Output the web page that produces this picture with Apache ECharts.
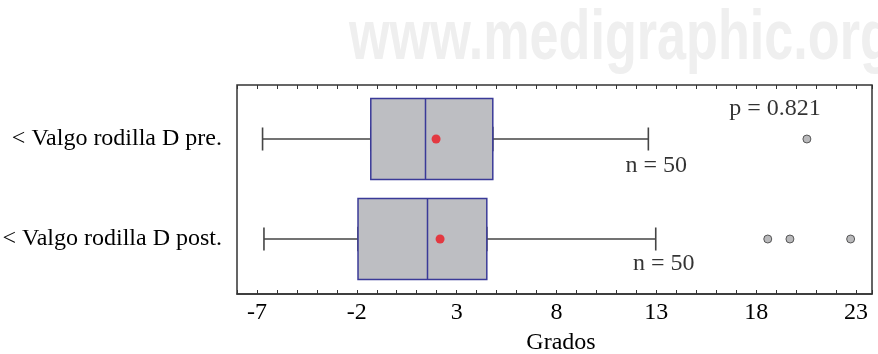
<!DOCTYPE html>
<html><head><meta charset="utf-8">
<script src="https://cdn.jsdelivr.net/npm/echarts@6/dist/echarts.min.js"></script>
<style>html,body{margin:0;padding:0;background:#fff}#c{width:878px;height:354px}</style>
</head><body><div id="c"></div>
<script>
// ---- data ----
const categories = ['< Valgo rodilla D pre.', '< Valgo rodilla D post.'];
// [lower whisker, Q1, median, Q3, upper whisker]
const boxPre  = [-6.72, -1.30, 1.44, 4.81, 12.60];
const boxPost = [-6.65, -1.94, 1.54, 4.51, 12.97];
const meanValues = [1.97, 2.17];
const outliersPre  = [20.54];
const outliersPost = [18.58, 19.69, 22.73];
const sampleSizes = [50, 50];
const pValue = '0.821';
const tickLabels = [-7, -2, 3, 8, 13, 18, 23];
const axisMin = -8, axisMax = 23.8;

// ---- build ----
const boxValues = [boxPre, boxPost];
const outlierPoints = [];
outliersPre.forEach(v => outlierPoints.push([v, 0]));
outliersPost.forEach(v => outlierPoints.push([v, 1]));
const serif = '"Liberation Serif", "Times New Roman", serif';
const txt = '#000';

const chart = echarts.init(document.getElementById('c'), null, {renderer: 'canvas'});
chart.setOption({
  animation: false,
  backgroundColor: '#fff',
  graphic: [{
    type: 'text', x: 349, y: 5, scaleX: 0.745, z: -10, silent: true,
    style: {text: 'www.medigraphic.org', font: 'bold 70px "Liberation Sans", Arial, sans-serif', fill: '#efefef', verticalAlign: 'top'}
  }],
  grid: [
    {left: 237, right: 6, top: 89, bottom: 65, containLabel: false, outerBoundsMode: 'none'},
    {left: 237, right: 6, top: 85, bottom: 60, containLabel: false, outerBoundsMode: 'none',
     show: true, borderColor: '#333', borderWidth: 1.5, backgroundColor: 'transparent'}
  ],
  xAxis: [
    {gridIndex: 0, type: 'value', min: axisMin, max: axisMax, show: false},
    {gridIndex: 1, type: 'value', min: axisMin, max: axisMax, interval: 1, position: 'bottom',
     axisLine: {show: true, lineStyle: {color: '#333', width: 1.5}},
     axisTick: {show: true, inside: true, length: 4, lineStyle: {color: '#333', width: 1}},
     splitLine: {show: false},
     axisLabel: {margin: 7, color: txt, fontFamily: serif, fontSize: 24,
       formatter: v => tickLabels.indexOf(v) >= 0 ? String(v) : ''},
     name: 'Grados', nameLocation: 'middle', nameGap: 37,
     nameTextStyle: {color: txt, fontFamily: serif, fontSize: 24, padding: [0, 0, 0, 13]}
    },
    {gridIndex: 1, type: 'value', min: axisMin, max: axisMax, interval: 1, position: 'top',
     axisLine: {show: false},
     axisTick: {show: true, inside: true, length: 4, lineStyle: {color: '#333', width: 1}},
     axisLabel: {show: false}, splitLine: {show: false}}
  ],
  yAxis: [
    {gridIndex: 0, type: 'category', data: categories, inverse: true,
     axisLine: {show: false}, axisTick: {show: false}, splitLine: {show: false},
     axisLabel: {margin: 15, color: txt, fontFamily: serif, fontSize: 24}},
    {gridIndex: 0, type: 'category', data: categories, inverse: true, show: false},
    {gridIndex: 1, type: 'value', show: false}
  ],
  series: [
    { // whiskers + short end caps
      type: 'boxplot', xAxisIndex: 0, yAxisIndex: 0, silent: true, z: 2,
      boxWidth: [23, 23],
      itemStyle: {color: 'transparent', borderColor: '#454545', borderWidth: 1.6},
      data: boxValues
    },
    { // boxes Q1..Q3 with median
      type: 'boxplot', xAxisIndex: 0, yAxisIndex: 1, silent: true, z: 3,
      boxWidth: [81, 81],
      itemStyle: {color: '#bdbec2', borderColor: '#3a3a98', borderWidth: 1.5},
      data: boxValues.map(b => [b[1], b[1], b[2], b[3], b[3]])
    },
    { // means
      type: 'scatter', xAxisIndex: 0, yAxisIndex: 0, silent: true, z: 5,
      symbol: 'circle', symbolSize: 9, itemStyle: {color: '#ec1820'},
      data: meanValues.map((m, i) => [m, i])
    },
    { // outliers
      type: 'scatter', xAxisIndex: 0, yAxisIndex: 0, silent: true, z: 5,
      symbol: 'circle', symbolSize: 8,
      itemStyle: {color: '#a8a8aa', borderColor: '#3a3a3a', borderWidth: 1},
      data: outlierPoints
    },
    { // n labels
      type: 'scatter', xAxisIndex: 0, yAxisIndex: 0, silent: true, z: 6,
      symbolSize: 0,
      label: {show: true, position: 'inside', color: txt, fontFamily: serif, fontSize: 24,
        formatter: p => 'n = ' + sampleSizes[p.dataIndex]},
      data: [
        {value: [boxPre[4], 0], label: {offset: [8, 27]}},
        {value: [boxPost[4], 1], label: {offset: [8, 25]}}
      ]
    },
    { // p value
      type: 'scatter', xAxisIndex: 0, yAxisIndex: 0, silent: true, z: 6,
      symbolSize: 0,
      label: {show: true, position: 'inside', color: txt, fontFamily: serif, fontSize: 24,
        offset: [0, -30], formatter: () => 'p = ' + pValue},
      data: [[18.94, 0]]
    }
  ]
});
</script></body></html>
